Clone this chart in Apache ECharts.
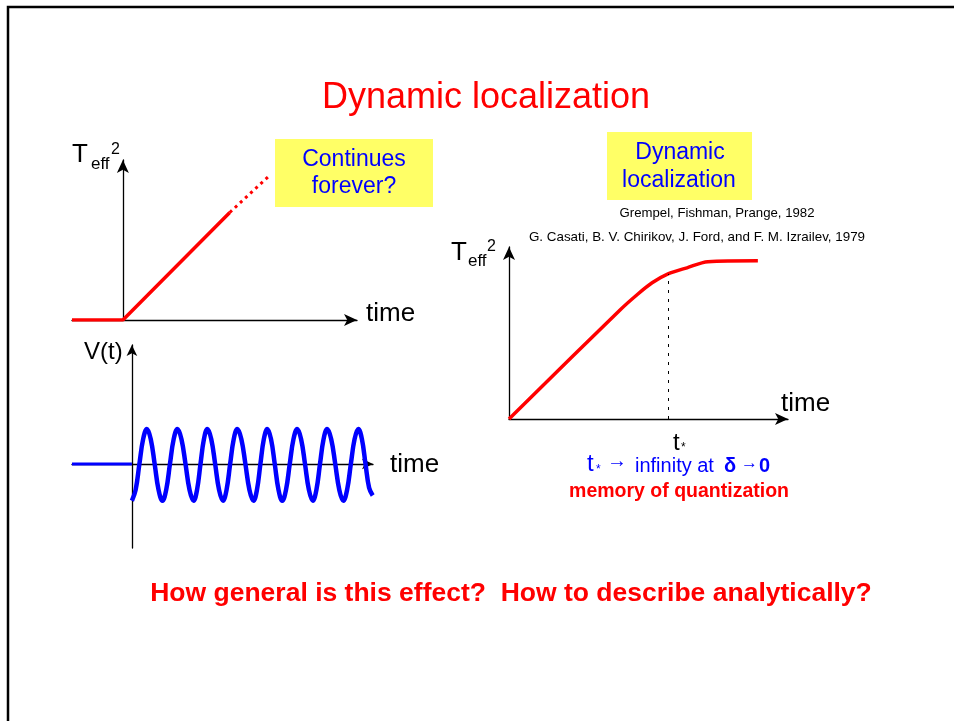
<!DOCTYPE html>
<html>
<head>
<meta charset="utf-8">
<script src="https://cdn.jsdelivr.net/npm/echarts@6/dist/echarts.min.js"></script>
<style>
  html, body { margin: 0; padding: 0; background: #fff; }
  #main { width: 954px; height: 721px; }
</style>
</head>
<body>
<div id="main"></div>
<script>
// left top sketch: T_eff^2 keeps growing
var growthSolid = [[-1, 0], [0, 0], [2.1, 2.15]];
var growthDotted = [[2.1, 2.15], [2.85, 2.86]];

var driveFlat = [[-2, 0], [0, 0]];
var driveX = [0, 0.125, 0.25, 0.375, 0.5, 0.63, 0.76, 0.89,
              1.02, 1.145, 1.27, 1.395, 1.52, 1.655, 1.79, 1.925,
              2.06, 2.175, 2.29, 2.405, 2.52, 2.65, 2.78, 2.91,
              3.04, 3.16, 3.28, 3.4, 3.52, 3.655, 3.79, 3.925,
              4.06, 4.175, 4.29, 4.405, 4.52, 4.645, 4.77, 4.895,
              5.02, 5.145, 5.27, 5.395, 5.52, 5.65, 5.78, 5.91,
              6.04, 6.16, 6.28, 6.4, 6.52, 6.655, 6.79, 6.925,
              7.06, 7.185, 7.31, 7.435, 7.56, 7.68, 7.8, 7.92, 8.04];
var driveY = [-1.05, -0.74, 0, 0.71, 1, 0.71, 0, -0.74,
              -1.05, -0.74, 0, 0.71, 1, 0.71, 0, -0.74,
              -1.05, -0.74, 0, 0.71, 1, 0.71, 0, -0.74,
              -1.05, -0.74, 0, 0.71, 1, 0.71, 0, -0.74,
              -1.05, -0.74, 0, 0.71, 1, 0.71, 0, -0.74,
              -1.05, -0.74, 0, 0.71, 1, 0.71, 0, -0.74,
              -1.05, -0.74, 0, 0.71, 1, 0.71, 0, -0.74,
              -1.05, -0.74, 0, 0.71, 1, 0.71, 0, -0.68, -0.9];

// right sketch: saturation (dynamic localization)
var satX = [0, 3.98, 4.59, 5.13, 5.70, 6.38, 7.13, 8.92];
var satY = [0, 3.93, 4.48, 4.91, 5.23, 5.45, 5.67, 5.70];
var tStar = 5.70;
var tStarLevel = 5.23;

var RED = '#FF0000', BLUE = '#0000FF', FONT = '"Liberation Sans", Arial, sans-serif';

function pairs(xs, ys) {
    var out = [];
    for (var i = 0; i < xs.length; i++) out.push([xs[i], ys[i]]);
    return out;
}

function axis(idx, min, max, arrow) {
    return {
        type: 'value', gridIndex: idx, min: min, max: max,
        axisLine: { show: true, onZero: true, symbol: ['none', 'arrow'], symbolSize: arrow,
                    lineStyle: { color: '#000', width: 1.3 } },
        axisTick: { show: false }, axisLabel: { show: false }, splitLine: { show: false }
    };
}

function txt(s, x, y, size, color, opts) {
    opts = opts || {};
    return {
        type: 'text', z: 10,
        style: {
            text: s, x: x, y: y, fill: color,
            font: (opts.bold ? 'bold ' : '') + size + 'px ' + FONT,
            textAlign: opts.align || 'left', textVerticalAlign: 'middle'
        }
    };
}

var myChart = echarts.init(document.getElementById('main'));
var option = {
    animation: false,
    backgroundColor: '#fff',
    grid: [
        { left: 72, top: 160, width: 285, height: 160 },
        { left: 72, top: 345, width: 301, height: 203 },
        { left: 509, top: 247, width: 279, height: 172 }
    ],
    xAxis: [
        axis(0, -1, 4.6, [9, 13]),
        axis(1, -2, 8.05, [8, 11]),
        axis(2, 0, 10, [9, 13])
    ],
    yAxis: [
        axis(0, 0, 3.2, [9, 13]),
        axis(1, -2.4, 3.4, [8, 11]),
        axis(2, 0, 6.2, [9, 13])
    ],
    series: [
        { type: 'line', xAxisIndex: 0, yAxisIndex: 0, data: growthSolid, symbol: 'none',
          lineStyle: { color: RED, width: 3.5 } },
        { type: 'line', xAxisIndex: 0, yAxisIndex: 0, data: growthDotted, symbol: 'none',
          lineStyle: { color: RED, width: 3, type: [3, 4] } },
        { type: 'line', xAxisIndex: 1, yAxisIndex: 1, data: driveFlat, symbol: 'none',
          lineStyle: { color: BLUE, width: 3 } },
        { type: 'line', xAxisIndex: 1, yAxisIndex: 1, data: pairs(driveX, driveY), symbol: 'none',
          smooth: 0.4, lineStyle: { color: BLUE, width: 4.5 } },
        { type: 'line', xAxisIndex: 2, yAxisIndex: 2, data: pairs(satX, satY), symbol: 'none',
          smooth: 0.3, lineStyle: { color: RED, width: 3.5 },
          markLine: {
              silent: true, symbol: 'none', label: { show: false },
              lineStyle: { color: '#000', width: 1, type: [3, 6] },
              data: [[{ coord: [tStar, 0] }, { coord: [tStar, tStarLevel] }]]
          } }
    ],
    graphic: [
        { type: 'rect', z: 0, shape: { x: 8, y: 7, width: 1000, height: 800 },
          style: { fill: 'none', stroke: '#000', lineWidth: 2.5 } },
        { type: 'rect', z: 1, shape: { x: 275, y: 139, width: 158, height: 68 }, style: { fill: '#FFFF66' } },
        { type: 'rect', z: 1, shape: { x: 607, y: 132, width: 145, height: 68 }, style: { fill: '#FFFF66' } },
        txt('Dynamic localization', 486, 98, 36, RED, { align: 'center' }),
        txt('Continues', 354, 160, 23, BLUE, { align: 'center' }),
        txt('forever?', 354, 187, 23, BLUE, { align: 'center' }),
        txt('Dynamic', 680, 153, 23, BLUE, { align: 'center' }),
        txt('localization', 679, 181, 23, BLUE, { align: 'center' }),
        txt('Grempel, Fishman, Prange, 1982', 717, 213, 13.2, '#000', { align: 'center' }),
        txt('G. Casati, B. V. Chirikov, J. Ford, and F. M. Izrailev, 1979', 697, 237, 13.4, '#000', { align: 'center' }),
        // axis names, left top
        txt('T', 72, 155, 26, '#000'),
        txt('eff', 91, 164, 17, '#000'),
        txt('2', 111, 150, 16, '#000'),
        txt('time', 366, 314, 26, '#000'),
        // left bottom
        txt('V(t)', 84, 352, 24, '#000'),
        txt('time', 390, 465, 26, '#000'),
        // right
        txt('T', 451, 253, 26, '#000'),
        txt('eff', 468, 261, 17, '#000'),
        txt('2', 487, 247, 16, '#000'),
        txt('time', 781, 404, 26, '#000'),
        txt('t', 673, 443, 24, '#000'),
        txt('*', 681, 448, 12, '#000'),
        txt('t', 587, 464, 24, BLUE),
        txt('*', 596, 470, 12, BLUE),
        txt('\u2192', 607, 461, 20, BLUE),
        txt('infinity at', 635, 466, 20, BLUE),
        txt('\u03b4', 724, 466, 20, BLUE, { bold: true }),
        txt('\u2192', 741, 463, 17, BLUE, { bold: true }),
        txt('0', 759, 466, 20, BLUE, { bold: true }),
        txt('memory of quantization', 679, 492, 19.5, RED, { bold: true, align: 'center' }),
        txt('How general is this effect?  How to describe analytically?', 511, 594, 26.5, RED, { bold: true, align: 'center' })
    ]
};
myChart.setOption(option);
</script>
</body>
</html>
